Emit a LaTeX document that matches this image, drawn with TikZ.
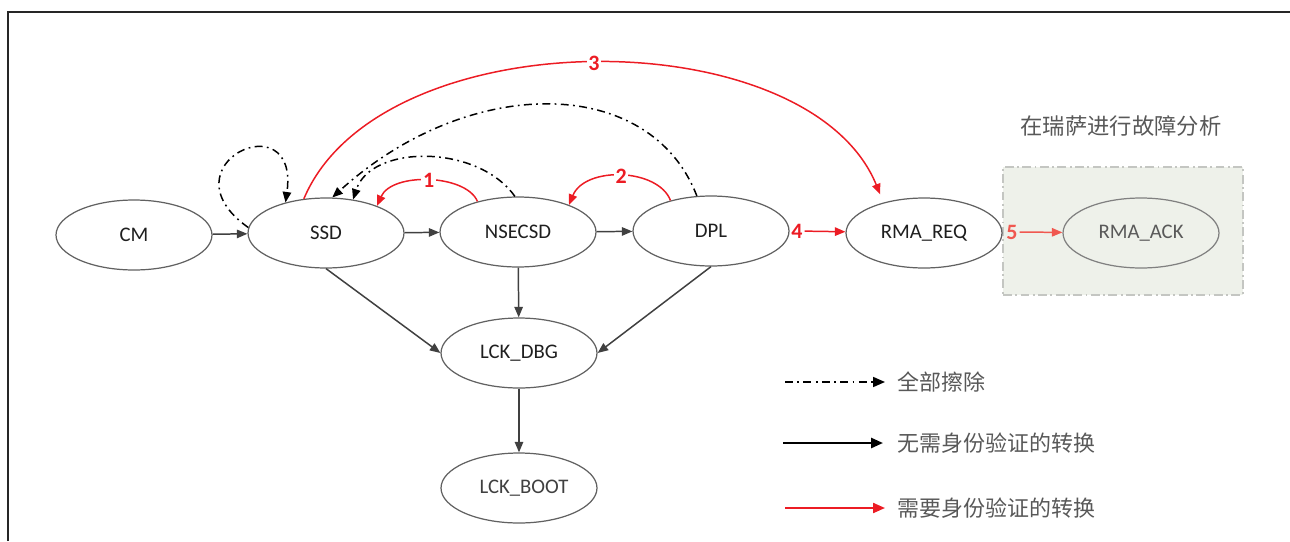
\documentclass[tikz,border=0pt]{standalone}
\usepackage{fontspec}
\setmainfont{Carlito}
\newfontfamily\cjk{Noto Sans CJK SC}
\usepackage{tikz}
\usetikzlibrary{arrows.meta}
\usetikzlibrary{positioning}
\usetikzlibrary{shapes.geometric}
\definecolor{edgegray}{RGB}{64, 64, 64}
\definecolor{authred}{RGB}{236, 28, 36}
\definecolor{softred}{RGB}{240, 88, 80}
\definecolor{boxfill}{RGB}{238, 241, 234}
\definecolor{boxline}{RGB}{196, 198, 194}
\definecolor{labelgray}{RGB}{88, 88, 88}

\tikzset{
  lcstate/.style={ellipse, draw=black!62, line width=0.7pt, minimum width=3.12cm,
                  minimum height=1.4cm, inner sep=0pt, text=black!88,
                  font=\fontsize{11.8}{13}\selectfont},
  freemove/.style={draw=edgegray, line width=0.85pt, -{Triangle[length=6pt, width=4.8pt]}},
  authmove/.style={draw=authred, line width=0.85pt, -{Triangle[length=6pt, width=4.8pt]}},
  erasemove/.style={draw=black, line width=0.85pt, dash pattern=on 4.5pt off 2.5pt on 1pt off 2.5pt,
                    -{Triangle[length=6pt, width=4.8pt]}},
  stepnum/.style={text=authred, fill=white, inner sep=1pt, font=\bfseries\fontsize{12.5}{13}\selectfont},
  legendtext/.style={anchor=west, inner sep=0pt, text=labelgray, font=\cjk\fontsize{12.5}{14}\selectfont},
}

\begin{document}
\begin{tikzpicture}[x=0.02cm, y=-0.02cm]
            \useasboundingbox (0,0) rectangle (1290,541);
            % Frame
            \draw[line width=1.1pt, black!85]                     (8,541) -- (8,12) -- (1290,12);
            % Failure analysis area
            \node (ackbox) [draw=boxline, fill=boxfill, line width=0.7pt,
                            dash pattern=on 5pt off 2pt on 1pt off 2pt,
                            minimum width=4.8cm, minimum height=2.56cm] at (1123,231) {};
            \node (acktitle) [text=labelgray, font=\cjk\fontsize{12.7}{14}\selectfont] at (1121,126) {在瑞萨进行故障分析};
            % Lifecycle states
            \node (cm)      [lcstate] at ( 134,235) {CM};
            \node (ssd)     [lcstate] at ( 326,233) {SSD};
            \node (nsecsd)  [lcstate] at ( 518,232) {NSECSD};
            \node (dpl)     [lcstate] at ( 711,231) {DPL};
            \node (rmareq)  [lcstate] at ( 924,233) {RMA\_REQ};
            \node (rmaack)  [lcstate, draw=black!50, text=black!65] at (1141,233) {RMA\_ACK};
            \node (lckdbg)  [lcstate] at ( 519,353) {LCK\_DBG};
            \node (lckboot) [lcstate, text=black!75] at ( 519,488) {\hspace*{0.2cm}LCK\_BOOT};
            % Transitions without authentication
            \draw[freemove] (cm)          -- (ssd);
            \draw[freemove] (ssd)         -- (nsecsd);
            \draw[freemove] (nsecsd)      -- (dpl);
            \draw[freemove] (ssd.south)   -- (lckdbg.west);
            \draw[freemove] (nsecsd)      -- (lckdbg);
            \draw[freemove] (dpl.south)   -- (lckdbg.east);
            \draw[freemove] (lckdbg)      -- (lckboot);
            % Full erase
            \draw[erasemove] (ssd.176)    .. controls (160,165) and (300,100) .. (ssd.143);
            \draw[erasemove] (nsecsd.95)  .. controls (478,144) and (371,144) .. (ssd.51);
            \draw[erasemove] (dpl.112)    .. controls (650,74)  and (468,74)  .. (ssd.80);
            % Transitions with authentication
            \draw[authmove] (nsecsd.143)  .. controls (466,174) and (392,172) .. (ssd.28)
                 node[stepnum, pos=0.5] (s1) {1};
            \draw[authmove] (dpl.143)     .. controls (658,168) and (585,166) .. (nsecsd.28)
                 node[stepnum, pos=0.5] (s2) {2};
            \draw[authmove, shorten >=5pt] (ssd.123) .. controls (380,18) and (808,18) .. (rmareq.143)
                 node[stepnum, pos=0.5] (s3) {3};
            \node (s4) [stepnum, fill=none] at (797,231) {4};
            \draw[authmove] (s4)          -- (rmareq);
            \node (s5) [stepnum, fill=none, text=softred] at (1012,232) {5};
            \draw[authmove, draw=softred] (s5) -- (rmaack);
            % Legend
            \coordinate (lg1a) at (785,382);  \coordinate (lg1b) at (885,382);
            \coordinate (lg2a) at (783,443);  \coordinate (lg2b) at (883,443);
            \coordinate (lg3a) at (785,508);  \coordinate (lg3b) at (885,508);
            \draw[erasemove, -{Triangle[length=6.8pt, width=5.7pt]}]                  (lg1a) -- (lg1b);
            \draw[freemove, draw=black, line width=1.4pt, -{Triangle[length=6.8pt, width=5.7pt]}] (lg2a) -- (lg2b);
            \draw[authmove, line width=1.1pt, -{Triangle[length=6.8pt, width=5.7pt]}] (lg3a) -- (lg3b);
            \node (lg1) [legendtext] at (897,382) {全部擦除};
            \node (lg2) [legendtext] at (897,443) {无需身份验证的转换};
            \node (lg3) [legendtext] at (897,508) {需要身份验证的转换};
\end{tikzpicture}
\end{document}
